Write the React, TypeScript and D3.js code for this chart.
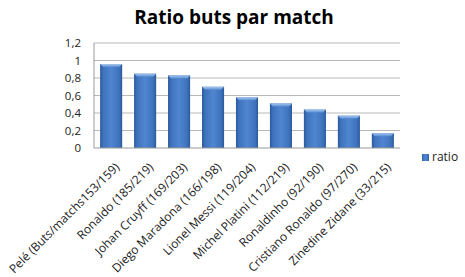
import React from "react";
import * as d3 from "d3";

const categories = [
  "Pelé (Buts/matchs153/159)",
  "Ronaldo (185/219)",
  "Johan Cruyff (169/203)",
  "Diego Maradona (166/198)",
  "Lionel Messi (119/204)",
  "Michel Platini (112/219)",
  "Ronaldinho (92/190)",
  "Cristiano Ronaldo (97/270)",
  "Zinedine Zidane (33/215)",
];
const ratio = [0.96, 0.85, 0.83, 0.7, 0.58, 0.51, 0.44, 0.37, 0.17];
const yTicks = [0, 0.2, 0.4, 0.6, 0.8, 1, 1.2];
const seriesName = "ratio";
const title = "Ratio buts par match";

const W = 465;
const H = 277;
const plot = { left: 94, right: 400, top: 43, bottom: 148 };
const font = "'Open Sans', 'DejaVu Sans', sans-serif";

export default function App() {
  const x = d3
    .scaleBand<string>()
    .domain(categories)
    .range([plot.left, plot.right])
    .paddingInner(0.35)
    .paddingOuter(0.18);
  const y = d3.scaleLinear().domain([0, 1.2]).range([plot.bottom, plot.top]);
  const fmt = (v: number) => d3.format("")(+v.toFixed(1)).replace(".", ",");

  return (
    <svg
      width={W}
      height={H}
      style={{ position: "absolute", left: 0, top: 0, background: "#fff" }}
      fontFamily={font}
    >
      <defs>
        <linearGradient id="barG" x1="0" x2="1" y1="0" y2="0">
          <stop offset="0" stopColor="#2a5a9c" />
          <stop offset="0.15" stopColor="#3f74bd" />
          <stop offset="0.5" stopColor="#4f86cf" />
          <stop offset="0.85" stopColor="#3f74bd" />
          <stop offset="1" stopColor="#2a5a9c" />
        </linearGradient>
        <linearGradient id="topG" x1="0" x2="0" y1="0" y2="1">
          <stop offset="0" stopColor="#a9c8ee" />
          <stop offset="1" stopColor="#5b8fd3" />
        </linearGradient>
      </defs>
      <text
        x={234}
        y={24}
        textAnchor="middle"
        fontSize={19}
        fontWeight="bold"
        fill="#000"
      >
        {title}
      </text>
      {yTicks.map((t) => (
        <g key={t}>
          {t > 0 && (
            <line
              x1={plot.left}
              x2={plot.right}
              y1={y(t)}
              y2={y(t)}
              stroke="#b8b8b8"
              strokeWidth={1}
            />
          )}
          <text
            x={81}
            y={y(t)}
            dy="0.35em"
            textAnchor="end"
            fontSize={11.5}
            fill="#222"
          >
            {fmt(t)}
          </text>
        </g>
      ))}
      <line
        x1={plot.left}
        x2={plot.left}
        y1={plot.top}
        y2={plot.bottom}
        stroke="#999"
      />
      {categories.map((c, i) => {
        const bx = x(c)!;
        const bw = x.bandwidth();
        const by = y(ratio[i]);
        const bh = plot.bottom - by;
        return (
          <g key={c}>
            <rect x={bx} y={by} width={bw} height={bh} fill="url(#barG)" />
            <path
              d={`M${bx},${by} L${bx + bw},${by} L${bx + bw - 3},${by + 3} L${bx + 3},${by + 3} Z`}
              fill="url(#topG)"
            />
          </g>
        );
      })}
      <line
        x1={plot.left}
        x2={plot.right}
        y1={plot.bottom}
        y2={plot.bottom}
        stroke="#999"
      />
      {categories.map((c) => {
        const cx = x(c)! + x.bandwidth() / 2 + 9;
        const cy = plot.bottom + 20;
        return (
          <text
            key={"l" + c}
            transform={`translate(${cx},${cy}) rotate(-45)`}
            textAnchor="end"
            fontSize={12}
            fill="#222"
          >
            {c}
          </text>
        );
      })}
      <rect x={422} y={154} width={7} height={7} fill="url(#barG)" />
      <text x={432} y={161} fontSize={12} fill="#222">
        {seriesName}
      </text>
    </svg>
  );
}
